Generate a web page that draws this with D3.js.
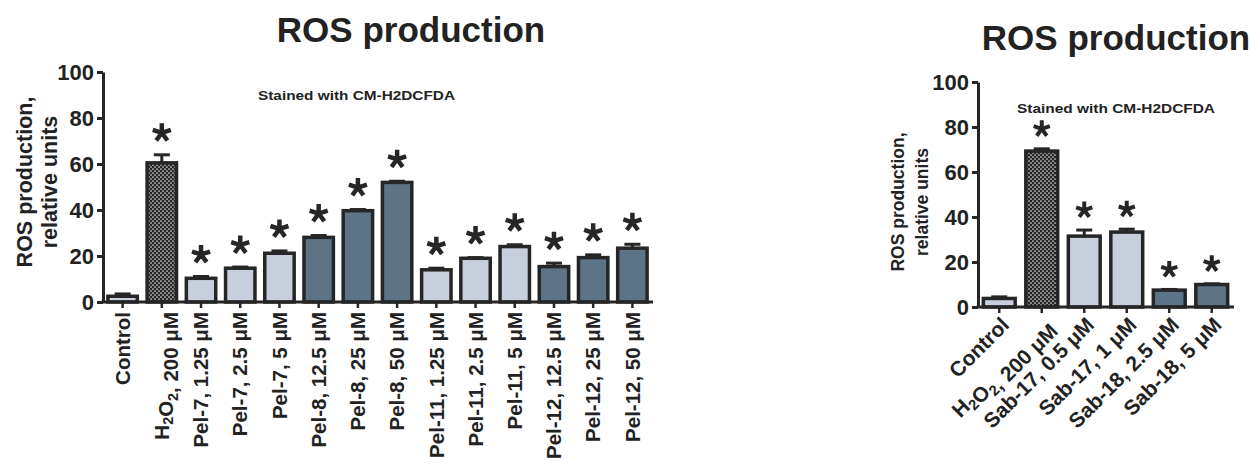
<!DOCTYPE html>
<html>
<head>
<meta charset="utf-8">
<script src="https://cdn.jsdelivr.net/npm/d3@7"></script>
<style>
  html, body { margin: 0; padding: 0; background: #ffffff; }
  svg { display: block; }
  text { font-family: "Liberation Sans", Arial, Helvetica, sans-serif; fill: #222; }
</style>
</head>
<body>
<svg id="chart" width="1250" height="466"></svg>
<script>
// ---- Pelorol-type compounds (left panel) ----
const peCategories = [
  "Control", "H_2O_2, 200 μM",
  "Pel-7, 1.25 μM", "Pel-7, 2.5 μM", "Pel-7, 5 μM",
  "Pel-8, 12.5 μM", "Pel-8, 25 μM", "Pel-8, 50 μM",
  "Pel-11, 1.25 μM", "Pel-11, 2.5 μM", "Pel-11, 5 μM",
  "Pel-12, 12.5 μM", "Pel-12, 25 μM", "Pel-12, 50 μM"
];
const peMeans  = [2.5, 60.5, 10.3, 14.7, 21.2, 28.1, 39.7, 52.0, 14.0, 19.0, 24.1, 15.4, 19.3, 23.4];
const peErrors = [1.0, 3.5, 0.8, 0.5, 1.0, 0.8, 0.5, 0.5, 0.7, 0.3, 0.8, 1.5, 1.2, 1.7];
const peFills  = ["light", "dots", "light", "light", "light", "dark", "dark", "dark",
                  "light", "light", "light", "dark", "dark", "dark"];
const peSignificant = [false, true, true, true, true, true, true, true, true, true, true, true, true, true];

// ---- Sab compounds (right panel) ----
const sabCategories = ["Control", "H_2O_2, 200 μM", "Sab-17, 0.5 μM", "Sab-17, 1 μM", "Sab-18, 2.5 μM", "Sab-18, 5 μM"];
const sabMeans  = [3.8, 69.3, 31.5, 33.3, 7.5, 10.0];
const sabErrors = [0.7, 1.0, 2.7, 1.3, 0.3, 0.3];
const sabFills  = ["light", "dots", "light", "light", "dark", "dark"];
const sabSignificant = [false, true, true, true, true, true];

const yTicks = [0, 20, 40, 60, 80, 100];
const chartTitle = "ROS production";
const yLabelLines = ["ROS production,", "relative units"];
const stainNote = "Stained with CM-H2DCFDA";

const svg = d3.select("#chart");
const ink = "#262626";
const fillColor = { light: "#c8cfdc", dark: "#5d7487", dots: "url(#dotFill)" };

// five-armed asterisk used as the significance mark
const symbolStar5 = {
  draw(context, size) {
    const r = Math.sqrt(size) / 2;
    for (let k = 0; k < 5; k++) {
      const a = -Math.PI / 2 + k * 2 * Math.PI / 5;
      context.moveTo(0, 0);
      context.lineTo(r * Math.cos(a), r * Math.sin(a));
    }
  }
};

// dotted fill for the H2O2 bar
const defs = svg.append("defs");
const pat = defs.append("pattern")
  .attr("id", "dotFill").attr("patternUnits", "userSpaceOnUse")
  .attr("width", 4).attr("height", 4);
pat.append("rect").attr("width", 4).attr("height", 4).attr("fill", "#262626");
pat.append("circle").attr("cx", 1).attr("cy", 1).attr("r", 0.85).attr("fill", "#dcdcdc");
pat.append("circle").attr("cx", 3).attr("cy", 3).attr("r", 0.85).attr("fill", "#dcdcdc");

// writes a label, turning "_x" into a subscript character
function writeLabel(sel, label, subSize) {
  const parts = label.split(/(_\d)/).filter(s => s.length);
  parts.forEach(p => {
    if (p.startsWith("_")) {
      sel.append("tspan").attr("dy", "0.3em").attr("font-size", subSize).text(p.slice(1));
      sel.append("tspan").attr("dy", "-0.3em").text("");
    } else {
      sel.append("tspan").text(p);
    }
  });
}

function drawPanel(cfg) {
  const g = svg.append("g");
  const x = d3.scaleBand()
    .domain(cfg.categories)
    .range([cfg.left, cfg.right])
    .paddingInner(0.25).paddingOuter(0.125);
  const y = d3.scaleLinear().domain([0, 100]).range([cfg.bottom, cfg.top]);

  const rows = cfg.categories.map((c, i) => ({
    cat: c, mean: cfg.means[i], err: cfg.errors[i], fill: cfg.fills[i], sig: cfg.significant[i]
  }));

  // title
  g.append("text")
    .attr("x", cfg.titleX).attr("y", cfg.titleY)
    .attr("text-anchor", "middle")
    .attr("font-size", 35).attr("font-weight", "bold")
    .text(chartTitle);

  // y axis title
  yLabelLines.forEach((line, k) => {
    g.append("text")
      .attr("transform", `translate(${cfg.yLabelX[k]},${cfg.yLabelY}) rotate(-90)`)
      .attr("text-anchor", "middle").attr("dominant-baseline", "central")
      .attr("font-size", cfg.yLabelSize).attr("font-weight", "bold")
      .text(line);
  });

  // note
  g.append("text")
    .attr("x", cfg.noteX).attr("y", cfg.noteY)
    .attr("font-size", 13.5).attr("font-weight", "bold")
    .attr("textLength", cfg.noteLen).attr("lengthAdjust", "spacingAndGlyphs")
    .text(stainNote);

  // error bars (upper whisker only)
  const eb = g.append("g").attr("stroke", ink).attr("stroke-width", 3);
  eb.selectAll("line.v").data(rows).join("line")
    .attr("x1", d => x(d.cat) + x.bandwidth() / 2)
    .attr("x2", d => x(d.cat) + x.bandwidth() / 2)
    .attr("y1", d => y(d.mean)).attr("y2", d => y(d.mean + d.err));
  eb.selectAll("line.c").data(rows).join("line")
    .attr("x1", d => x(d.cat) + x.bandwidth() / 2 - cfg.capHalf)
    .attr("x2", d => x(d.cat) + x.bandwidth() / 2 + cfg.capHalf)
    .attr("y1", d => y(d.mean + d.err)).attr("y2", d => y(d.mean + d.err));

  // bars
  g.append("g").selectAll("rect").data(rows).join("rect")
    .attr("x", d => x(d.cat))
    .attr("width", x.bandwidth())
    .attr("y", d => y(d.mean))
    .attr("height", d => y(0) - y(d.mean))
    .attr("fill", d => fillColor[d.fill])
    .attr("stroke", ink).attr("stroke-width", 3.5);

  // significance marks
  const star = d3.symbol(symbolStar5, (2 * cfg.starR) ** 2);
  g.append("g").selectAll("path").data(rows.filter(d => d.sig)).join("path")
    .attr("transform", d => `translate(${x(d.cat) + x.bandwidth() / 2},${y(d.mean + d.err) - cfg.starGap})`)
    .attr("d", star)
    .attr("fill", "none").attr("stroke", ink)
    .attr("stroke-width", cfg.starWidth).attr("stroke-linecap", "butt");

  // y axis
  const ya = g.append("g")
    .attr("transform", `translate(${cfg.left},0)`)
    .call(d3.axisLeft(y).tickValues(yTicks).tickSize(6).tickSizeOuter(0).tickPadding(3));
  ya.select(".domain").attr("stroke", ink).attr("stroke-width", 3);
  ya.selectAll(".tick line").attr("stroke", ink).attr("stroke-width", 3);
  ya.selectAll(".tick text")
    .attr("font-size", 22).attr("font-weight", "bold").attr("fill", "#222")
    .attr("font-family", "Liberation Sans, Arial, sans-serif");

  // x axis
  const xa = g.append("g")
    .attr("transform", `translate(0,${cfg.bottom})`)
    .call(d3.axisBottom(x).tickSize(6).tickSizeOuter(0).tickFormat(""));
  xa.select(".domain").attr("stroke", ink).attr("stroke-width", 3)
    .attr("d", `M${cfg.left - 1.5},0H${cfg.axisEnd}`);
  xa.selectAll(".tick line").attr("stroke", ink).attr("stroke-width", 2.5);

  // category labels
  g.append("g").selectAll("text").data(rows).join("text")
    .attr("transform", d => {
      const cx = x(d.cat) + x.bandwidth() / 2;
      return `translate(${cx + cfg.labelDx},${cfg.bottom + cfg.labelDy}) rotate(${cfg.labelAngle})`;
    })
    .attr("text-anchor", "end")
    .attr("dy", cfg.labelShift)
    .attr("font-size", cfg.labelSize).attr("font-weight", "bold")
    .each(function (d) { writeLabel(d3.select(this), d.cat, cfg.labelSize * 0.7); });
}

drawPanel({
  categories: peCategories, means: peMeans, errors: peErrors, fills: peFills, significant: peSignificant,
  left: 103, right: 652, axisEnd: 653, top: 72, bottom: 302,
  titleX: 411, titleY: 42,
  yLabelX: [25, 50], yLabelY: 182, yLabelSize: 21.5,
  noteX: 258, noteY: 100, noteLen: 197,
  capHalf: 8, starGap: 22, starR: 9.5, starWidth: 4.5,
  labelAngle: -90, labelDx: 0, labelDy: 10, labelShift: "0.35em", labelSize: 20.5
});

drawPanel({
  categories: sabCategories, means: sabMeans, errors: sabErrors, fills: sabFills, significant: sabSignificant,
  left: 978, right: 1233, axisEnd: 1234, top: 82, bottom: 307,
  titleX: 1116, titleY: 50,
  yLabelX: [898, 922], yLabelY: 202, yLabelSize: 17.5,
  noteX: 1017, noteY: 113, noteLen: 198,
  capHalf: 8, starGap: 20, starR: 8.5, starWidth: 4,
  labelAngle: -45, labelDx: 6, labelDy: 14, labelShift: "0.35em", labelSize: 21
});
</script>
</body>
</html>
